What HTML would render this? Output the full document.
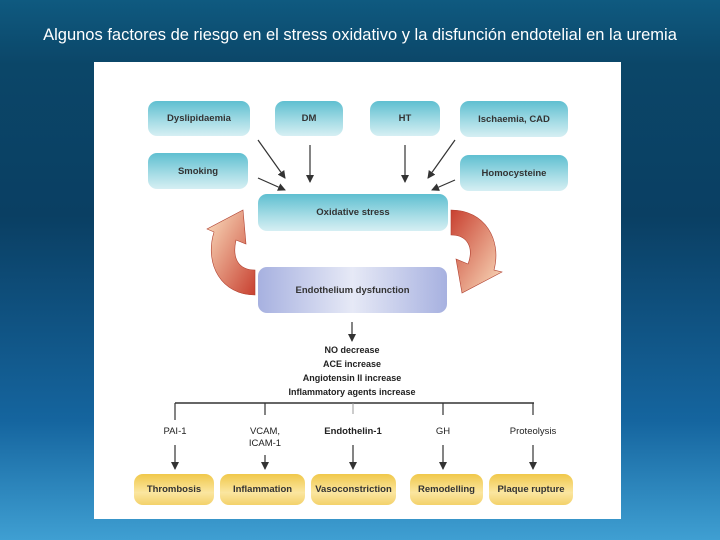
<!DOCTYPE html><html><head><style>
body{margin:0;width:720px;height:540px;overflow:hidden;font-family:"Liberation Sans",sans-serif;}
#bg{position:absolute;left:0;top:0;width:720px;height:540px;background:linear-gradient(180deg,#0f5a80 0%,#0b4668 12%,#0a3f63 40%,#15659f 78%,#3f9fd2 100%);}
.t{position:absolute;left:0;top:26px;width:720px;text-align:center;color:#fff;font-size:16.5px;}
#panel{position:absolute;left:94px;top:62px;width:527px;height:457px;background:#fff;}
.b{position:absolute;border-radius:9px;display:flex;align-items:center;justify-content:center;font-size:9.5px;font-weight:bold;color:#333;}
.c{background:linear-gradient(180deg,#5fbfd0,#a8dde6 60%,#d6eff3);}
.y{background:linear-gradient(180deg,#f0c84a,#fbe6a0 60%,#f3d16a);}
.p{background:linear-gradient(90deg,#a7b1e0,#e6e9f6 50%,#a7b1e0);}
.tx{position:absolute;font-size:9.5px;color:#222;text-align:center;}
</style></head><body><div id="bg"></div>
<div class="t">Algunos factores de riesgo en el stress oxidativo y la disfunción endotelial en la uremia</div>
<div id="panel"></div>
<div class="b c" style="left:148px;top:101px;width:102px;height:35px">Dyslipidaemia</div>
<div class="b c" style="left:275px;top:101px;width:68px;height:35px">DM</div>
<div class="b c" style="left:370px;top:101px;width:70px;height:35px">HT</div>
<div class="b c" style="left:460px;top:101px;width:108px;height:36px">Ischaemia, CAD</div>
<div class="b c" style="left:148px;top:153px;width:100px;height:36px">Smoking</div>
<div class="b c" style="left:460px;top:155px;width:108px;height:36px">Homocysteine</div>
<div class="b c" style="left:258px;top:194px;width:190px;height:37px">Oxidative stress</div>
<div class="b p" style="left:258px;top:267px;width:189px;height:46px">Endothelium dysfunction</div>
<div class="b y" style="left:134px;top:474px;width:80px;height:31px">Thrombosis</div>
<div class="b y" style="left:220px;top:474px;width:85px;height:31px">Inflammation</div>
<div class="b y" style="left:311px;top:474px;width:85px;height:31px">Vasoconstriction</div>
<div class="b y" style="left:410px;top:474px;width:73px;height:31px">Remodelling</div>
<div class="b y" style="left:489px;top:474px;width:84px;height:31px">Plaque rupture</div>
<div class="tx" style="left:252px;top:343px;width:200px;line-height:14px;font-weight:bold;font-size:9px">NO decrease<br>ACE increase<br>Angiotensin II increase<br>Inflammatory agents increase</div>
<div class="tx" style="left:150px;top:426px;width:50px">PAI-1</div>
<div class="tx" style="left:240px;top:426px;width:50px;line-height:12px">VCAM,<br>ICAM-1</div>
<div class="tx" style="left:313px;top:426px;width:80px;font-weight:bold">Endothelin-1</div>
<div class="tx" style="left:423px;top:426px;width:40px">GH</div>
<div class="tx" style="left:498px;top:426px;width:70px">Proteolysis</div>
<svg style="position:absolute;left:0;top:0" width="720" height="540">
<defs><marker id="a" markerWidth="8" markerHeight="8" refX="7" refY="4" orient="auto" markerUnits="userSpaceOnUse"><path d="M0,0L8,4L0,8z" fill="#333"/></marker>
<linearGradient id="r" x1="0" y1="0" x2="1" y2="1"><stop offset="0" stop-color="#c84030"/><stop offset="1" stop-color="#fbe0c0"/></linearGradient>
<linearGradient id="r2" x1="1" y1="1" x2="0" y2="0"><stop offset="0" stop-color="#c84030"/><stop offset="1" stop-color="#fbe0c0"/></linearGradient></defs>
<g stroke="#333" stroke-width="1.2" fill="none" marker-end="url(#a)">
<line x1="258" y1="140" x2="285" y2="178"/><line x1="310" y1="145" x2="310" y2="182"/>
<line x1="405" y1="145" x2="405" y2="182"/><line x1="455" y1="140" x2="428" y2="178"/>
<line x1="258" y1="178" x2="285" y2="190"/><line x1="455" y1="180" x2="432" y2="190"/>
<line x1="352" y1="322" x2="352" y2="341"/>
<line x1="175" y1="403" x2="175" y2="420" marker-end="none"/><line x1="265" y1="403" x2="265" y2="415" marker-end="none"/>
<line x1="443" y1="403" x2="443" y2="415" marker-end="none"/><line x1="533" y1="403" x2="533" y2="415" marker-end="none"/>
<line x1="175" y1="445" x2="175" y2="469"/><line x1="265" y1="455" x2="265" y2="469"/>
<line x1="353" y1="445" x2="353" y2="469"/><line x1="443" y1="445" x2="443" y2="469"/><line x1="533" y1="445" x2="533" y2="469"/>
</g>
<line x1="175" y1="403" x2="534" y2="403" stroke="#333" stroke-width="1.5"/>
<line x1="353" y1="403" x2="353" y2="414" stroke="#999" stroke-width="1"/>
<path d="M255,295 C222,295 204,265 214,232 L207,229 L243,210 L246,244 L236,240 C232,258 238,270 255,270 Z" fill="url(#r2)" stroke="#b04030" stroke-width="0.6"/>
<path d="M451,210 C485,210 502,240 494,270 L502,272 L462,293 L456,259 L468,264 C474,248 468,235 451,235 Z" fill="url(#r)" stroke="#b04030" stroke-width="0.6"/>
</svg>
</body></html>
